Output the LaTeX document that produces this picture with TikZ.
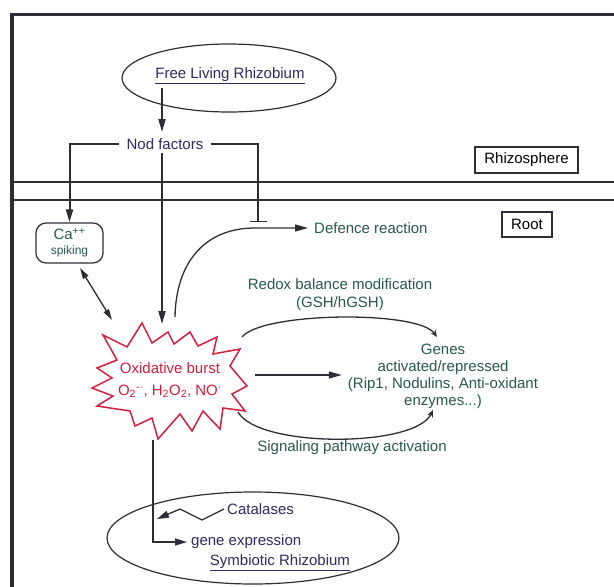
\documentclass[tikz,border=0pt]{standalone}
\usepackage{fontspec}
\setmainfont{Liberation Sans}
\usetikzlibrary{arrows.meta,shapes.geometric}
\definecolor{linec}{RGB}{45,45,55}
\definecolor{tealtx}{RGB}{40,88,78}
\definecolor{navytx}{RGB}{45,42,100}
\definecolor{burstred}{RGB}{212,30,62}
\tikzset{
  lbl/.style={font=\fontsize{15}{17}\selectfont, inner sep=0pt},
  tealt/.style={lbl, text=tealtx},
  navyt/.style={lbl, text=navytx},
  conn/.style={draw=linec, line width=1.3pt},
  thickconn/.style={draw=linec, line width=2pt},
  arr/.style={-{Triangle[length=13pt,width=7pt]}},
  smallarr/.style={-{Stealth[length=7pt,width=6pt]}},
  boxed/.style={draw=linec, line width=1.2pt, rectangle},
}
\begin{document}
\begin{tikzpicture}[x=1pt,y=-1pt]
\useasboundingbox (0,0) rectangle (614,587);
\fill[white] (0,0) rectangle (614,587);

% frame
\draw[linec, line width=3pt] (10,14) -- (614,14);
\draw[linec, line width=4pt] (12,12.5) -- (12,587);
\draw[linec, line width=2pt] (12,182) -- (614,182);
\draw[linec, line width=2pt] (12,200) -- (614,200);

% region labels
\node[boxed, lbl, minimum width=103pt, minimum height=26pt] (rhizo) at (526.5,160) {Rhizosphere};
\node[boxed, lbl, minimum width=50pt, minimum height=25pt] (root) at (527,224.5) {Root};

% Free living rhizobium
\node[draw=linec, line width=1.2pt, ellipse, minimum width=214pt, minimum height=68pt] (flr) at (229,78) {};
\node[navyt] (flrtext) at (230,76) {\underline{Free Living Rhizobium}};

% Nod factors
\node[navyt, inner xsep=7pt, inner ysep=3pt] (nod) at (165,144) {Nod factors};

% Ca spiking
\node[draw=linec, line width=1.2pt, rounded corners=10pt, minimum width=67pt, minimum height=40pt,
      text=tealtx, align=center, inner sep=0pt] (ca) at (69.5,243)
  {{\fontsize{15}{15}\selectfont Ca\textsuperscript{++}}\\[3pt]{\fontsize{12}{13}\selectfont spiking}};

% Oxidative burst
\draw[burstred, line width=1.5pt, fill=white] plot coordinates {
 (103,335) (127,347) (142,323) (152,343) (168,332) (174,344) (190,332) (198,346)
 (217,337) (213,354) (240,349) (230,366) (247,386) (232,394) (245,411) (223,408)
 (220,429) (203,411) (192,431) (180,414) (158,439) (152,418) (135,426) (130,411)
 (97,406) (113,396) (92,388) (112,378) (97,368) (117,360)} -- cycle;
\node[lbl, text=burstred, align=center] (burst) at (170,380)
  {Oxidative burst\\[5pt]O\textsubscript{2}\textsuperscript{-·}, H\textsubscript{2}O\textsubscript{2}, NO\textsuperscript{·}};

% other labels
\node[tealt, anchor=west, inner xsep=6pt] (defence) at (308,228) {Defence reaction};
\node[tealt, align=center] (redox) at (340,295) {Redox balance modification\\[1pt](GSH/hGSH)};
\node[tealt, align=center, inner xsep=6pt] (genes) at (443,376)
  {Genes\\activated/repressed\\(Rip1, Nodulins, Anti-oxidant\\enzymes...)};
\node[tealt] (signal) at (352,448) {Signaling pathway activation};

% Symbiotic rhizobium
\node[draw=linec, line width=1.2pt, ellipse, minimum width=292pt, minimum height=92pt] (symb) at (253,538) {};
\node[navyt] (symbtext) at (280,563) {\underline{Symbiotic Rhizobium}};
\node[navyt, anchor=west, inner xsep=3pt] (catal) at (224,509) {Catalases};
\node[navyt, anchor=west, inner xsep=4pt] (geneexp) at (187,542) {gene expression};

% coordinates
\coordinate (flrout) at (162,88);
\coordinate (nodin) at (162,132);
\coordinate (btop) at (162,324);
\coordinate (inh) at (258,222);
\coordinate (caout) at (80,268);
\coordinate (bul) at (112,320);
\coordinate (bdef) at (175,317);
\coordinate (ua1) at (242,337);
\coordinate (ua2) at (437,337);
\coordinate (bright) at (255,375);
\coordinate (la1) at (238,412);
\coordinate (la2) at (433,410);
\coordinate (bbot) at (153,440);
\coordinate (z1) at (202,520);
\coordinate (z2) at (180,509);
\coordinate (z3) at (157,519);

% connectors
\draw[thickconn, arr] (flrout) -- (nodin);
\draw[thickconn, arr] (nod.west) -| (ca.north);
\draw[conn, -{Bar[width=17pt,line width=1.3pt]}] (nod.east) -| (inh);
\draw[thickconn, arr] (nod.south -| btop) -- (btop);
\draw[conn, {Triangle[length=11pt,width=6pt]}-{Triangle[length=11pt,width=6pt]}] (caout) -- (bul);
\draw[conn, arr] (bdef) .. controls (176,262) and (205,228) .. (255,228) -- (defence.west);
\draw[conn, smallarr] (ua1) .. controls (262,312) and (418,310) .. (ua2);
\draw[conn, arr] (bright) -- (bright -| genes.west);
\draw[conn, smallarr] (la1) .. controls (258,448) and (415,448) .. (la2);
\draw[conn, -{Triangle[length=12pt,width=7pt]}] (bbot) |- (geneexp.west);
\draw[conn, -{Triangle[length=12pt,width=7pt]}] (catal.west) -- (z1) -- (z2) -- (z3);
\end{tikzpicture}
\end{document}
